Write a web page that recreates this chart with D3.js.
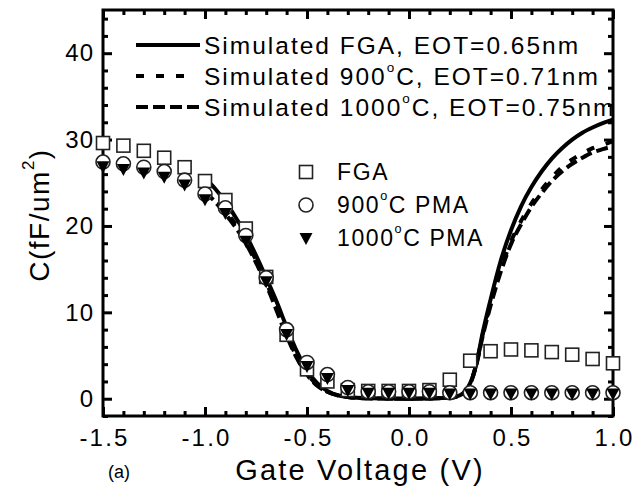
<!DOCTYPE html>
<html>
<head>
<meta charset="utf-8">
<script src="https://cdn.jsdelivr.net/npm/d3@7"></script>
<style>
  body { margin: 0; background: #fff; }
  text { font-family: Arial, 'Liberation Sans', Helvetica, sans-serif; fill: #000; }
</style>
</head>
<body>
<svg id="chart" width="634" height="490"></svg>
<script>
// measured points, every 0.1 V
const vMeas = [-1.5, -1.4, -1.3, -1.2, -1.1, -1.0, -0.9, -0.8, -0.7, -0.6, -0.5, -0.4, -0.3,
               -0.2, -0.1, 0.0, 0.1, 0.2, 0.3, 0.4, 0.5, 0.6, 0.7, 0.8, 0.9, 1.0];
const cFGA  = [29.6, 29.3, 28.7, 27.9, 26.8, 25.2, 23.0, 19.7, 14.1, 7.4, 3.4, 2.0, 1.0,
               0.9, 0.9, 0.9, 1.0, 2.2, 4.4, 5.5, 5.7, 5.6, 5.4, 5.1, 4.6, 4.1];
const c900  = [27.4, 27.2, 26.8, 26.3, 25.3, 23.7, 22.1, 18.9, 14.0, 8.0, 4.2, 2.8, 1.3,
               0.8, 0.8, 0.8, 0.8, 0.7, 0.7, 0.7, 0.7, 0.7, 0.7, 0.7, 0.7, 0.7];
const c1000 = [26.9, 26.6, 26.2, 25.7, 24.8, 23.1, 21.5, 18.3, 13.6, 7.5, 3.8, 2.4, 1.0,
               0.7, 0.7, 0.7, 0.7, 0.6, 0.6, 0.6, 0.6, 0.6, 0.6, 0.6, 0.6, 0.6];

// simulated curves
const vSimFGA = [-1.0, -0.95, -0.9, -0.85, -0.8, -0.75, -0.7, -0.65, -0.6, -0.55, -0.5, -0.45, -0.4,
                 -0.35, -0.3, -0.2, 0.0, 0.2, 0.25, 0.28, 0.3, 0.33, 0.36, 0.4, 0.45, 0.5, 0.55,
                 0.6, 0.65, 0.7, 0.75, 0.8, 0.85, 0.9, 0.95, 1.0];
const simFGA  = [25.6, 24.3, 22.8, 21.0, 19.0, 16.6, 14.0, 11.3, 8.3, 5.5, 3.3, 1.8, 0.9,
                 0.4, 0.2, 0.05, 0.0, 0.1, 0.4, 1.0, 1.8, 4.0, 7.5, 11.5, 16.0, 19.5, 22.3,
                 24.5, 26.3, 27.8, 29.0, 30.0, 30.8, 31.4, 31.9, 32.3];
const vSim = [-1.0, -0.9, -0.8, -0.7, -0.6, -0.55, -0.5, -0.45, -0.4, -0.3, -0.2, 0.0, 0.2,
              0.25, 0.3, 0.33, 0.36, 0.4, 0.45, 0.5, 0.55, 0.6, 0.65, 0.7, 0.75, 0.8, 0.85,
              0.9, 0.95, 1.0];
const sim900  = [24.5, 21.8, 18.3, 13.5, 7.5, 4.8, 2.9, 1.6, 0.8, 0.2, 0.05, 0.0, 0.1,
                 0.4, 1.8, 4.0, 7.3, 11.0, 15.0, 18.2, 20.6, 22.6, 24.2, 25.6, 26.8, 27.7, 28.4,
                 29.0, 29.4, 29.8];
const sim1000 = [24.0, 21.4, 18.0, 13.2, 7.3, 4.7, 2.8, 1.5, 0.8, 0.2, 0.05, 0.0, 0.1,
                 0.4, 1.7, 3.9, 7.1, 10.8, 14.7, 17.9, 20.2, 22.2, 23.8, 25.2, 26.3, 27.2, 27.9,
                 28.5, 28.9, 29.2];

const xTicks = [-1.5, -1.0, -0.5, 0.0, 0.5, 1.0];
const yTicks = [0, 10, 20, 30, 40];

const svg = d3.select('#chart');
const pLeft = 103, pRight = 613, pTop = 10, pBottom = 416;
const x = d3.scaleLinear().domain([-1.5, 1.0]).range([pLeft, pRight]);
const y = d3.scaleLinear().domain([-2, 45]).range([pBottom, pTop]);

const xMinor = d3.range(-15, 11).map(d => d / 10);
const yMinor = d3.range(-2, 46, 2).filter(d => d % 10 !== 0);

// axes: ticks point inward on all four sides
const axisG = (axis, tx, ty) => {
  const g = svg.append('g').attr('transform', `translate(${tx},${ty})`).call(axis);
  g.select('.domain').remove();
  g.selectAll('line').attr('stroke', '#000').attr('stroke-width', 3);
  return g;
};
const fmtX = d => d.toFixed(1);

axisG(d3.axisBottom(x).tickValues(xMinor).tickSize(-5).tickFormat(''), 0, pBottom);
axisG(d3.axisTop(x).tickValues(xMinor).tickSize(-5).tickFormat(''), 0, pTop);
axisG(d3.axisLeft(y).tickValues(yMinor).tickSize(-5).tickFormat(''), pLeft, 0);
axisG(d3.axisRight(y).tickValues(yMinor).tickSize(-5).tickFormat(''), pRight, 0);

const xb = axisG(d3.axisBottom(x).tickValues(xTicks).tickSize(-9).tickPadding(10).tickFormat(fmtX), 0, pBottom);
axisG(d3.axisTop(x).tickValues(xTicks).tickSize(-9).tickFormat(''), 0, pTop);
const yl = axisG(d3.axisLeft(y).tickValues(yTicks).tickSize(-9).tickPadding(9), pLeft, 0);
axisG(d3.axisRight(y).tickValues(yTicks).tickSize(-9).tickFormat(''), pRight, 0);

xb.selectAll('text').attr('font-size', 24).attr('letter-spacing', 2.2).attr('dy', '0.85em')
  .attr('dx', 1).attr('font-family', null);
yl.selectAll('text').attr('font-size', 24).attr('letter-spacing', 1).attr('font-family', null);

// frame
svg.append('rect')
  .attr('x', pLeft).attr('y', pTop)
  .attr('width', pRight - pLeft).attr('height', pBottom - pTop)
  .attr('fill', 'none').attr('stroke', '#000').attr('stroke-width', 3);

// simulated curves
const dash900 = '8,12', dash1000 = '12,5';
const line = d3.line().x(d => x(d[0])).y(d => y(d[1])).curve(d3.curveMonotoneX);
const sims = [
  {v: vSim, c: sim1000, dash: dash1000},
  {v: vSim, c: sim900, dash: dash900},
  {v: vSimFGA, c: simFGA, dash: null},
];
sims.forEach(s => {
  svg.append('path')
    .datum(s.v.map((v, i) => [v, s.c[i]]))
    .attr('d', line)
    .attr('fill', 'none')
    .attr('stroke', '#000')
    .attr('stroke-width', 4)
    .attr('stroke-dasharray', s.dash);
});

// measured markers
const drawSquare = (g, cx, cy) => g.append('rect')
  .attr('x', cx - 6.5).attr('y', cy - 6.5).attr('width', 13).attr('height', 13)
  .attr('fill', '#fff').attr('stroke', '#222').attr('stroke-width', 1.6);
const drawCircle = (g, cx, cy) => g.append('circle')
  .attr('cx', cx).attr('cy', cy).attr('r', 7)
  .attr('fill', '#fff').attr('stroke', '#222').attr('stroke-width', 1.6);
const drawTri = (g, cx, cy) => g.append('path')
  .attr('d', `M${cx - 6.5},${cy - 5} L${cx + 6.5},${cy - 5} L${cx},${cy + 7} Z`)
  .attr('fill', '#000');

const marks = svg.append('g');
vMeas.forEach((v, i) => drawSquare(marks, x(v), y(cFGA[i])));
vMeas.forEach((v, i) => drawCircle(marks, x(v), y(c900[i])));
vMeas.forEach((v, i) => drawTri(marks, x(v), y(c1000[i])));

// legend for the simulated curves
const legRows = [
  {dash: null, len: 64, parts: ['Simulated FGA, EOT=0.65nm']},
  {dash: dash900, len: 50, parts: ['Simulated 900', 'C, EOT=0.71nm']},
  {dash: dash1000, len: 64, parts: ['Simulated 1000', 'C, EOT=0.75nm']},
];
const addText = (g, tx, ty, parts, size, ls) => {
  const t = g.append('text').attr('x', tx).attr('y', ty)
    .attr('font-size', size).attr('letter-spacing', ls).attr('dominant-baseline', 'central');
  t.append('tspan').text(parts[0]);
  if (parts.length > 1) {
    t.append('tspan').attr('font-size', size * 0.55).attr('dy', -size * 0.38).text('o');
    t.append('tspan').attr('dy', size * 0.38).text(parts[1]);
  }
  return t;
};
legRows.forEach((r, i) => {
  const ly = 45 + i * 31;
  svg.append('line')
    .attr('x1', 136).attr('x2', 136 + r.len).attr('y1', ly).attr('y2', ly)
    .attr('stroke', '#000').attr('stroke-width', 4)
    .attr('stroke-dasharray', r.dash);
  addText(svg, 204, ly, r.parts, 24.5, 2.0);
});

// legend for the measured data
const symRows = [
  {draw: drawSquare, parts: ['FGA']},
  {draw: drawCircle, parts: ['900', 'C PMA']},
  {draw: drawTri, parts: ['1000', 'C PMA']},
];
symRows.forEach((r, i) => {
  const ly = 172 + i * 33;
  r.draw(svg, 306, ly);
  addText(svg, 337, ly, r.parts, 23, 1.6);
});

// axis titles
svg.append('text')
  .attr('x', 360).attr('y', 470)
  .attr('text-anchor', 'middle').attr('dominant-baseline', 'central')
  .attr('font-size', 29).attr('letter-spacing', 2.2)
  .text('Gate Voltage (V)');

svg.append('text')
  .attr('x', 119).attr('y', 472)
  .attr('text-anchor', 'middle').attr('dominant-baseline', 'central')
  .attr('font-size', 18)
  .text('(a)');

const yt = svg.append('text')
  .attr('transform', 'translate(39,215) rotate(-90)')
  .attr('text-anchor', 'middle').attr('dominant-baseline', 'central')
  .attr('font-size', 28).attr('letter-spacing', 1.5);
yt.append('tspan').text('C(fF/um');
yt.append('tspan').attr('font-size', 17).attr('dy', -11).text('2');
yt.append('tspan').attr('dy', 11).text(')');
</script>
</body>
</html>
